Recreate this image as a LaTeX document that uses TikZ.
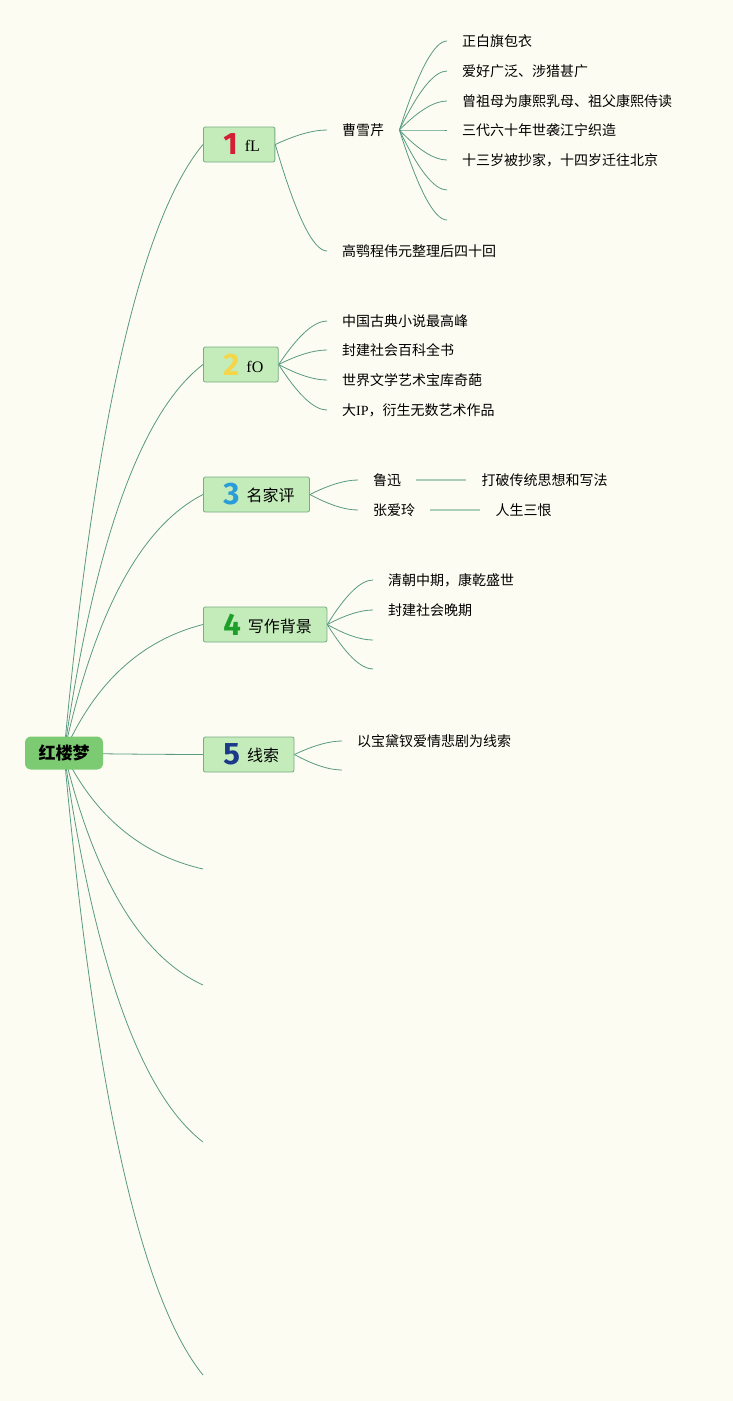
\documentclass[tikz,border=0pt]{standalone}
\usepackage{fontspec}
\setmainfont{Noto Sans CJK SC}
\newfontfamily\latinserif{Liberation Serif}
\newfontfamily\numfont{Fira Sans}
\usepackage{tikz}
\usetikzlibrary{positioning}
\usetikzlibrary{calc,backgrounds}

\definecolor{bgcream}{RGB}{253,252,242}
\definecolor{rootgreen}{RGB}{124,203,114}
\definecolor{topicfill}{RGB}{196,236,186}
\definecolor{topicborder}{RGB}{118,172,134}
\definecolor{linkgreen}{RGB}{88,154,130}
\definecolor{linklight}{RGB}{170,206,182}
\definecolor{numred}{RGB}{212,30,52}
\definecolor{numyellow}{RGB}{244,214,72}
\definecolor{numblue}{RGB}{42,156,216}
\definecolor{numgreen}{RGB}{30,158,42}
\definecolor{numnavy}{RGB}{28,56,138}

\newcommand{\numtag}[2]{\hspace{5pt}\raisebox{-3pt}{\numfont\bfseries\fontsize{31}{31}\selectfont\color{#1}#2}\hspace{7pt}}

\begin{document}
\begin{tikzpicture}[x=1pt,y=-1pt,
    rootbox/.style={fill=rootgreen,rounded corners=6pt,minimum width=78pt,minimum height=33pt,
        font=\bfseries\fontsize{17}{19}\selectfont},
    topic/.style={anchor=west,draw=topicborder,fill=topicfill,line width=0.8pt,rounded corners=2pt,
        minimum height=35pt,inner xsep=15pt,inner ysep=1pt,font=\fontsize{16}{18}\selectfont},
    leaf/.style={anchor=west,inner xsep=15pt,inner ysep=2pt,font=\fontsize{14}{16}\selectfont},
    rootlink/.style={draw=linkgreen,line width=0.8pt,
        to path={let \p1=(\tikztostart), \p2=(\tikztotarget) in
            (\p1) .. controls ({\x1+0.22*(\x2-\x1)},{\y1+0.543*(\y2-\y1)})
            and ({\x2-0.447*(\x2-\x1)},{\y2-0.123*(\y2-\y1)}) .. (\p2)}},
    sublink/.style={draw=linkgreen,line width=0.8pt,
        to path={let \p1=(\tikztostart), \p2=(\tikztotarget) in
            (\p1) .. controls ({\x1+0.4*(\x2-\x1)},{\y1+0.667*(\y2-\y1)})
            and ({\x2-0.267*(\x2-\x1)},\y2) .. (\p2)}},
    revline/.style={draw=linklight,line width=1.6pt}]

    \useasboundingbox (0,0) rectangle (733,1401);
    \begin{scope}[on background layer]
        \fill[bgcream] (0,0) rectangle (733,1401);
    \end{scope}

    % centre and main topics
    \node[rootbox] (root) at (64,753) {红楼梦};

    \node[topic] (t1) at (203,144.5) {\numtag{numred}{1}{\latinserif fL}};
    \node[topic] (t2) at (203,364.5) {\numtag{numyellow}{2}{\latinserif fO}};
    \node[topic] (t3) at (203,494.5) {\numtag{numblue}{3}名家评};
    \node[topic] (t4) at (203,624.5) {\numtag{numgreen}{4}写作背景};
    \node[topic] (t5) at (203,754.5) {\numtag{numnavy}{5}线索};

    \coordinate (e1) at (203,869);
    \coordinate (e2) at (203,985);
    \coordinate (e3) at (203,1142);
    \coordinate (e4) at (203,1375);

    % topic 1
    \node[leaf] (cao) at (327,130) {曹雪芹};
    \node[leaf] (gao) at (327,251) {高鹗程伟元整理后四十回};
    \node[leaf] (cao1) at (447,41) {正白旗包衣};
    \node[leaf] (cao2) at (447,71) {爱好广泛、涉猎甚广};
    \node[leaf] (cao3) at (447,101) {曾祖母为康熙乳母、祖父康熙侍读};
    \node[leaf] (cao4) at (447,130) {三代六十年世袭江宁织造};
    \node[leaf] (cao5) at (447,160) {十三岁被抄家，十四岁迁往北京};
    \coordinate (cao6) at (447,190);
    \coordinate (cao7) at (447,220);

    % topic 2
    \node[leaf] (hi1) at (327,321) {中国古典小说最高峰};
    \node[leaf] (hi2) at (327,350) {封建社会百科全书};
    \node[leaf] (hi3) at (327,380) {世界文学艺术宝库奇葩};
    \node[leaf] (hi4) at (327,410) {大{\latinserif IP}，衍生无数艺术作品};

    % topic 3
    \node[leaf] (lx) at (358,480) {鲁迅};
    \node[leaf] (zl) at (358,510) {张爱玲};
    \node[leaf,right=50pt of lx] (lxr) {打破传统思想和写法};
    \node[leaf,right=50pt of zl] (zlr) {人生三恨};

    % topic 4
    \node[leaf] (bg1) at (373,580) {清朝中期，康乾盛世};
    \node[leaf] (bg2) at (373,610) {封建社会晚期};
    \coordinate (bg3) at (373,640);
    \coordinate (bg4) at (373,669);

    % topic 5
    \node[leaf] (xs1) at (342,741) {以宝黛钗爱情悲剧为线索};
    \coordinate (xs2) at (342,770);

    \begin{scope}[on background layer]
        \path[rootlink]
            (root.center) edge (t1.west)
            (root.center) edge (t2.west)
            (root.center) edge (t3.west)
            (root.center) edge (t4.west)
            (root.center) edge (t5.west)
            (root.center) edge (e1)
            (root.center) edge (e2)
            (root.center) edge (e3)
            (root.center) edge (e4);
    \end{scope}

    \path[sublink]
        (t1.east) edge (cao.west)
        (t1.east) edge (gao.west)
        (t2.east) edge (hi1.west)
        (t2.east) edge (hi2.west)
        (t2.east) edge (hi3.west)
        (t2.east) edge (hi4.west)
        (t3.east) edge (lx.west)
        (t3.east) edge (zl.west)
        (t4.east) edge (bg1.west)
        (t4.east) edge (bg2.west)
        (t4.east) edge (bg3)
        (t4.east) edge (bg4)
        (t5.east) edge (xs1.west)
        (t5.east) edge (xs2);

    \foreach \c in {cao1,cao2,cao3,cao4,cao5}
        \path[sublink] (cao.east) edge (\c.west);
    \foreach \c in {cao6,cao7}
        \path[sublink] (cao.east) edge (\c);

    \path[revline]
        (lx) edge (lxr)
        (zl) edge (zlr);
\end{tikzpicture}
\end{document}
